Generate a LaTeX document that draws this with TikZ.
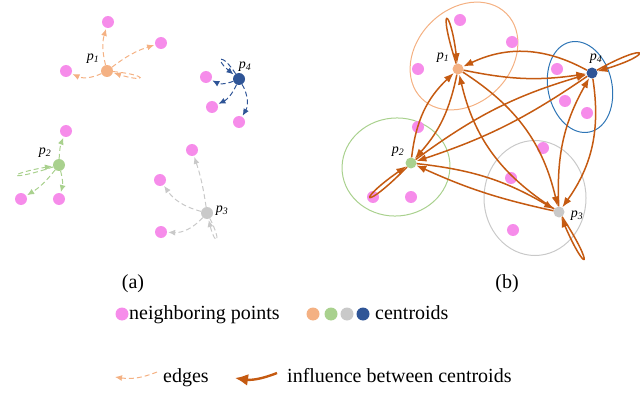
\documentclass[tikz,border=0pt]{standalone}
\usepackage{fontspec}
\setmainfont{Liberation Serif}
\usetikzlibrary{arrows.meta}
\definecolor{pinkpt}{RGB}{246,140,234}
\definecolor{cora}{RGB}{244,177,131}
\definecolor{cgreen}{RGB}{169,209,142}
\definecolor{cgray}{RGB}{201,201,201}
\definecolor{cblue}{RGB}{47,85,151}
\definecolor{infl}{RGB}{197,90,17}
\definecolor{ellblue}{RGB}{46,117,182}
\begin{document}
\begin{tikzpicture}[x=1pt,y=-1pt,
  nb/.style={circle,fill=pinkpt,inner sep=0,minimum size=12pt},
  cen/.style={circle,inner sep=0,minimum size=#1},
  cen/.default=12pt,
  lbl/.style={font=\fontsize{14}{14}\selectfont\itshape,inner sep=0},
  dedge/.style={dash pattern=on 5pt off 3pt, line width=1pt, shorten >=1pt, -{Latex[length=7pt,width=6pt]}},
  inf/.style={draw=infl,line width=1.5pt,-{Latex[length=10pt,width=7.5pt]}},
  txt/.style={font=\fontsize{20}{24}\selectfont,inner sep=0},
  ell/.style={line width=1pt}
]
\useasboundingbox (0,0) rectangle (640,417);

% ---------------- panel (a) ----------------
\node[cen,fill=cora] (a1) at (107,71) {};
\node[nb] (a1n1) at (108,22) {};
\node[nb] (a1n2) at (161,43) {};
\node[nb] (a1n3) at (66,71) {};
\node[lbl] (la1) at (93,59) {p\textsubscript{1}};

\node[cen,fill=cblue] (a4) at (239,79) {};
\node[nb] (a4n1) at (206,77) {};
\node[nb] (a4n2) at (212,107) {};
\node[nb] (a4n3) at (239,122) {};
\node[lbl] (la4) at (245,67) {p\textsubscript{4}};

\node[cen,fill=cgreen] (a2) at (59,165) {};
\node[nb] (a2n1) at (66,131) {};
\node[nb] (a2n2) at (21,199) {};
\node[nb] (a2n3) at (59,199) {};
\node[lbl] (la2) at (45,153) {p\textsubscript{2}};

\node[cen,fill=cgray] (a3) at (207,213) {};
\node[nb] (a3n1) at (192,150) {};
\node[nb] (a3n2) at (160,180) {};
\node[nb] (a3n3) at (161,232) {};
\node[lbl] (la3) at (222,211) {p\textsubscript{3}};

\begin{scope}[draw=cora,color=cora]
\draw[dedge] (a1) to[bend left=15] (a1n1);
\draw[dedge] (a1) to[bend left=10] (a1n2);
\draw[dedge] (a1) to[bend left=25] (a1n3);
\draw[dedge] (a1) .. controls (149,75) and (147,83) .. (a1);
\end{scope}
\begin{scope}[draw=cblue,color=cblue]
\draw[dedge] (a4) to[bend left=25] (a4n1);
\draw[dedge] (a4) to[bend left=20] (a4n2);
\draw[dedge] (a4) to[bend left=30] (a4n3);
\draw[dedge] (a4) .. controls (221.4,51.7) and (214,58.3) .. (a4);
\end{scope}
\begin{scope}[draw=cgreen,color=cgreen]
\draw[dedge] (a2) to[bend left=10] (a2n1);
\draw[dedge] (a2) to[bend left=10] (a2n2);
\draw[dedge] (a2) to[bend left=15] (a2n3);
\draw[dedge] (a2) .. controls (6.7,182.3) and (4.7,174.3) .. (a2);
\end{scope}
\begin{scope}[draw=cgray,color=cgray]
\draw[dedge] (a3) to[bend right=5] (a3n1);
\draw[dedge] (a3) to[bend left=20] (a3n2);
\draw[dedge] (a3) to[bend left=25] (a3n3);
\draw[dedge] (a3) .. controls (222.8,243.6) and (215.2,246.4) .. (a3);
\end{scope}

% ---------------- panel (b) ----------------
\draw[ell,cora] (464,56) ellipse[x radius=60pt,y radius=47pt,rotate=45];
\draw[ell,ellblue] (580,87) ellipse[x radius=32pt,y radius=46pt,rotate=12];
\draw[ell,cgreen] (396,167) ellipse[x radius=54pt,y radius=49pt,rotate=5];
\draw[ell,cgray] (535,198) ellipse[x radius=51pt,y radius=57.5pt];

\foreach \i/\p in {1/{(460,20)},2/{(512,42)},3/{(418,69)},4/{(557,69)},5/{(565,101)},6/{(587,113)},
                   7/{(418,127)},8/{(543,148)},9/{(511,178)},10/{(373,197)},11/{(411,197)},12/{(513,230)}}
  \node[nb] (bn\i) at \p {};

\node[cen=11pt,fill=cora] (b1) at (458,69) {};
\node[cen=11pt,fill=cblue] (b4) at (592,73) {};
\node[cen=11pt,fill=cgreen] (b2) at (411,163) {};
\node[cen=11pt,fill=cgray] (b3) at (559,212) {};
\node[lbl] (lb1) at (443,58) {p\textsubscript{1}};
\node[lbl] (lb4) at (596,59) {p\textsubscript{4}};
\node[lbl] (lb2) at (398,152) {p\textsubscript{2}};
\node[lbl] (lb3) at (577,216) {p\textsubscript{3}};

\draw[inf] (b1) to[bend right=10] (b4);
\draw[inf] (b4) to[bend right=27] (b1);
\draw[inf] (b2) to[bend left=20] (b1);
\draw[inf] (b1) to[bend left=15] (b2);
\draw[inf] (b1) to[bend left=22] (b3);
\draw[inf] (b3) to[bend left=22] (b1);
\draw[inf] (b2) to[bend left=10] (b4);
\draw[inf] (b4) to[bend left=8] (b2);
\draw[inf] (b2) to[bend left=12] (b3);
\draw[inf] (b3) to[bend left=6] (b2);
\draw[inf] (b3) to[bend left=16] (b4);
\draw[inf] (b4) to[bend left=22] (b3);
\draw[inf] (b1) .. controls (437,5) and (450,5) .. (b1);
\draw[inf] (b4) .. controls (649,41) and (655,54) .. (b4);
\draw[inf] (b2) .. controls (363,212) and (355,202) .. (b2);
\draw[inf] (b3) .. controls (596,269) and (586,275) .. (b3);

% ---------------- captions and legend ----------------
\node[txt,anchor=base] (capa) at (133,288) {(a)};
\node[txt,anchor=base] (capb) at (507,288) {(b)};

\node[nb,minimum size=13pt] (lgp) at (122,314) {};
\node[txt,anchor=base west] (lgpt) at (129,319) {neighboring points};
\node[cen=13pt,fill=cora] (lgc1) at (313,314) {};
\node[cen=13pt,fill=cgreen] (lgc2) at (331,314) {};
\node[cen=13pt,fill=cgray] (lgc3) at (347,314) {};
\node[cen=13pt,fill=cblue] (lgc4) at (363,314) {};
\node[txt,anchor=base west] (lgct) at (375,319) {centroids};

\coordinate (le1) at (157,372);
\coordinate (le2) at (115,377);
\draw[dedge,draw=cora,color=cora,shorten >=0pt] (le1) to[bend left=15] (le2);
\node[txt,anchor=base west] (lget) at (163,382) {edges};
\coordinate (li1) at (277,373);
\coordinate (li2) at (235,378);
\draw[draw=infl,line width=2.4pt,-{Latex[length=13pt,width=12pt]}] (li1) to[bend left=15] (li2);
\node[txt,anchor=base west] (lgit) at (287,382) {influence between centroids};
\end{tikzpicture}
\end{document}
